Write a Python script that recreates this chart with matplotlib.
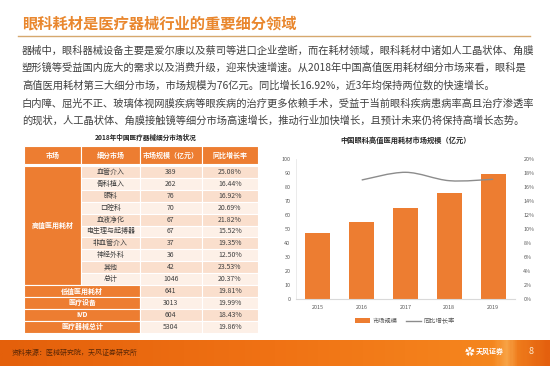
import numpy as np
import matplotlib.pyplot as plt
from matplotlib.patches import Rectangle, PathPatch
from matplotlib.path import Path
from matplotlib.lines import Line2D
from matplotlib.colors import LinearSegmentedColormap

plt.rcParams['font.family'] = ['Noto Sans CJK SC', 'DejaVu Sans']

# ---- slide text ----
title = "眼科耗材是医疗器械行业的重要细分领域"
body_lines = [
    "器械中，眼科器械设备主要是爱尔康以及蔡司等进口企业垄断，而在耗材领域，眼科耗材中诸如人工晶状体、角膜",
    "塑形镜等受益国内庞大的需求以及消费升级，迎来快速增速。从2018年中国高值医用耗材细分市场来看，眼科是",
    "高值医用耗材第三大细分市场，市场规模为76亿元。同比增长16.92%，近3年均保持两位数的快速增长。",
    "白内障、屈光不正、玻璃体视网膜疾病等眼疾病的治疗更多依赖手术，受益于当前眼科疾病患病率高且治疗渗透率",
    "的现状，人工晶状体、角膜接触镜等细分市场高速增长，推动行业加快增长，且预计未来仍将保持高增长态势。",
]
source = "资料来源：医械研究院，天风证券研究所"

# ---- table data ----
table_title = "2018年中国医疗器械细分市场状况"
table_header = ["市场", "细分市场", "市场规模（亿元）", "同比增长率"]
high_value_group = "高值医用耗材"
segments = ["血管介入", "骨科植入", "眼科", "口腔科", "血液净化",
            "电生理与起搏器", "非血管介入", "神经外科", "其他", "总计"]
other_groups = ["低值医用耗材", "医疗设备", "IVD", "医疗器械总计"]
market_sizes = [389, 262, 76, 70, 67, 67, 37, 36, 42, 1046, 641, 3013, 604, 5304]
growth_rates = ["25.08%", "16.44%", "16.92%", "20.69%", "21.82%", "15.52%", "19.35%",
                "12.50%", "23.53%", "20.37%", "19.81%", "19.99%", "18.43%", "19.86%"]

# ---- chart data ----
chart_title = "中国眼科高值医用耗材市场规模（亿元）"
years = ["2015", "2016", "2017", "2018", "2019"]
eye_market = [47, 55, 65, 76, 89]
yoy_growth = [np.nan, 17.0, 18.1, 16.9, 17.1]

W, H = 550, 366
ORANGE = "#ED7D31"


def fx(x):
    return x / W


def fy(y):
    return 1 - y / H


def smooth_path(xs, ys):
    # Excel-like smoothed line: cubic bezier through the points (Catmull-Rom tangents)
    pts = np.column_stack([xs, ys])
    verts = [pts[0]]
    codes = [Path.MOVETO]
    for k in range(len(pts) - 1):
        p0 = pts[k - 1] if k > 0 else pts[k]
        p1, p2 = pts[k], pts[k + 1]
        p3 = pts[k + 2] if k + 2 < len(pts) else pts[k + 1]
        c1 = p1 + (p2 - p0) / 6
        c2 = p2 - (p3 - p1) / 6
        verts += [c1, c2, p2]
        codes += [Path.CURVE4] * 3
    return Path(verts, codes)


fig = plt.figure(figsize=(5.5, 3.66), dpi=100)

# background / decoration layer in pixel units
bg = fig.add_axes([0, 0, 1, 1], zorder=-1)
bg.axis("off")

footer_cmap = LinearSegmentedColormap.from_list(
    "footer",
    [(0.0, "#E4600B"), (0.5, "#F07214"), (0.9, "#F5861E"), (0.925, "#F8A447"),
     (0.945, "#EF7C1C"), (1.0, "#E4600E")],
)
grad = np.linspace(0, 1, 300).reshape(1, -1)
bg.imshow(grad, cmap=footer_cmap, aspect="auto", extent=[0, W, H, 340])
bg.set_xlim(0, W)
bg.set_ylim(H, 0)
bg.plot([18, 530], [36, 36], color="#D6A86E", lw=1)

fig.text(fx(22), fy(23), title, fontsize=11, fontweight="bold", color="#E9872E", va="center")
for i, line in enumerate(body_lines):
    fig.text(fx(22), fy(50.5 + 17.6 * i), line, fontsize=7.4, color="#404040", va="center")

# ---- table ----
fig.text(fx(146), fy(137), table_title, fontsize=4.8, fontweight="bold",
         color="#262626", ha="center", va="center")

tax = fig.add_axes([fx(24), fy(333), 234 / W, 187 / H])
tax.set_xlim(0, 234)
tax.set_ylim(187, 0)
tax.axis("off")

col_x = [0, 57, 116, 177.7, 234]
header_h = 18
row_top = 20
row_h = 11.9
fills = ["#FADFCD", "#FDF0E7"]
txt_kw = dict(ha="center", va="center", fontsize=5)

for j, name in enumerate(table_header):
    tax.add_patch(Rectangle((col_x[j], 0), col_x[j + 1] - col_x[j], header_h,
                            fc=ORANGE, ec="white", lw=0.8))
    tax.text((col_x[j] + col_x[j + 1]) / 2, header_h / 2, name, color="white",
             fontweight="bold", **txt_kw)

n_high = len(segments)
tax.add_patch(Rectangle((0, row_top), col_x[1], n_high * row_h, fc=ORANGE, ec="white", lw=0.8))
tax.text(col_x[1] / 2, row_top + n_high * row_h / 2, high_value_group, color="white",
         fontweight="bold", **txt_kw)

for i in range(len(market_sizes)):
    y0 = row_top + i * row_h
    yc = y0 + row_h / 2
    fill = fills[i % 2]
    if i < n_high:
        tax.add_patch(Rectangle((col_x[1], y0), col_x[2] - col_x[1], row_h, fc=fill, ec="white", lw=0.8))
        tax.text((col_x[1] + col_x[2]) / 2, yc, segments[i], color="#404040", **txt_kw)
    else:
        tax.add_patch(Rectangle((0, y0), col_x[2], row_h, fc=ORANGE, ec="white", lw=0.8))
        tax.text(col_x[2] / 2, yc, other_groups[i - n_high], color="white",
                 fontweight="bold", **txt_kw)
    for j, val in ((2, str(market_sizes[i])), (3, growth_rates[i])):
        tax.add_patch(Rectangle((col_x[j], y0), col_x[j + 1] - col_x[j], row_h, fc=fill, ec="white", lw=0.8))
        tax.text((col_x[j] + col_x[j + 1]) / 2, yc, val, color="#404040", **txt_kw)

# ---- chart ----
fig.text(fx(406), fy(140), chart_title, fontsize=5.2, fontweight="bold",
         color="#262626", ha="center", va="center")

cax = fig.add_axes([fx(296), fy(299), 219 / W, 140 / H])
x = np.arange(len(years))
cax.bar(x, eye_market, width=0.57, color=ORANGE)
cax.set_xlim(-0.5, len(years) - 0.5)
cax.set_ylim(0, 100)
cax.set_yticks(np.arange(0, 101, 10))
cax.set_xticks(x)
cax.set_xticklabels(years)
for s in ("top", "right"):
    cax.spines[s].set_visible(False)
cax.spines["left"].set_color("#E8E8E8")
cax.spines["left"].set_linewidth(0.6)
cax.spines["bottom"].set_color("#D9D9D9")
cax.spines["bottom"].set_linewidth(0.8)
cax.tick_params(axis="both", length=0, labelsize=3.9, colors="#595959")
cax.tick_params(axis="y", pad=4)
cax.tick_params(axis="x", pad=4.5)

rax = cax.twinx()
g = np.array(yoy_growth, dtype=float)
ok = ~np.isnan(g)
rax.add_patch(PathPatch(smooth_path(x[ok].astype(float), g[ok]), fc="none",
                        ec="#8C8C8C", lw=1))
rax.set_ylim(0, 20)
rax.set_yticks(np.arange(0, 21, 2))
rax.set_yticklabels([f"{v}%" for v in range(0, 21, 2)])
for s in rax.spines.values():
    s.set_visible(False)
rax.tick_params(axis="y", length=0, labelsize=3.9, colors="#595959", pad=6)

handles = [Rectangle((0, 0), 1, 1, fc=ORANGE),
           Line2D([0], [0], color="#8C8C8C", lw=1)]
fig.legend(handles, ["市场规模", "同比增长率"], loc="center",
           bbox_to_anchor=(fx(405), fy(321)), ncol=2, frameon=False,
           fontsize=4.5, handlelength=2.4, handleheight=0.9, handletextpad=0.4,
           columnspacing=1.3, labelcolor="#595959")

# ---- footer ----
fig.text(fx(12), fy(353), source, fontsize=5, color="#5A2706", va="center")
fig.text(fx(470), fy(352), "✿", fontsize=7, color="white", ha="center", va="center")
fig.text(fx(476), fy(351), "天风证券", fontsize=5, color="white", fontweight="bold", va="center")
fig.text(fx(531), fy(352), "8", fontsize=6.5, color="#FDE6C8", ha="center", va="center")

fig.savefig("out.png", dpi=100)
